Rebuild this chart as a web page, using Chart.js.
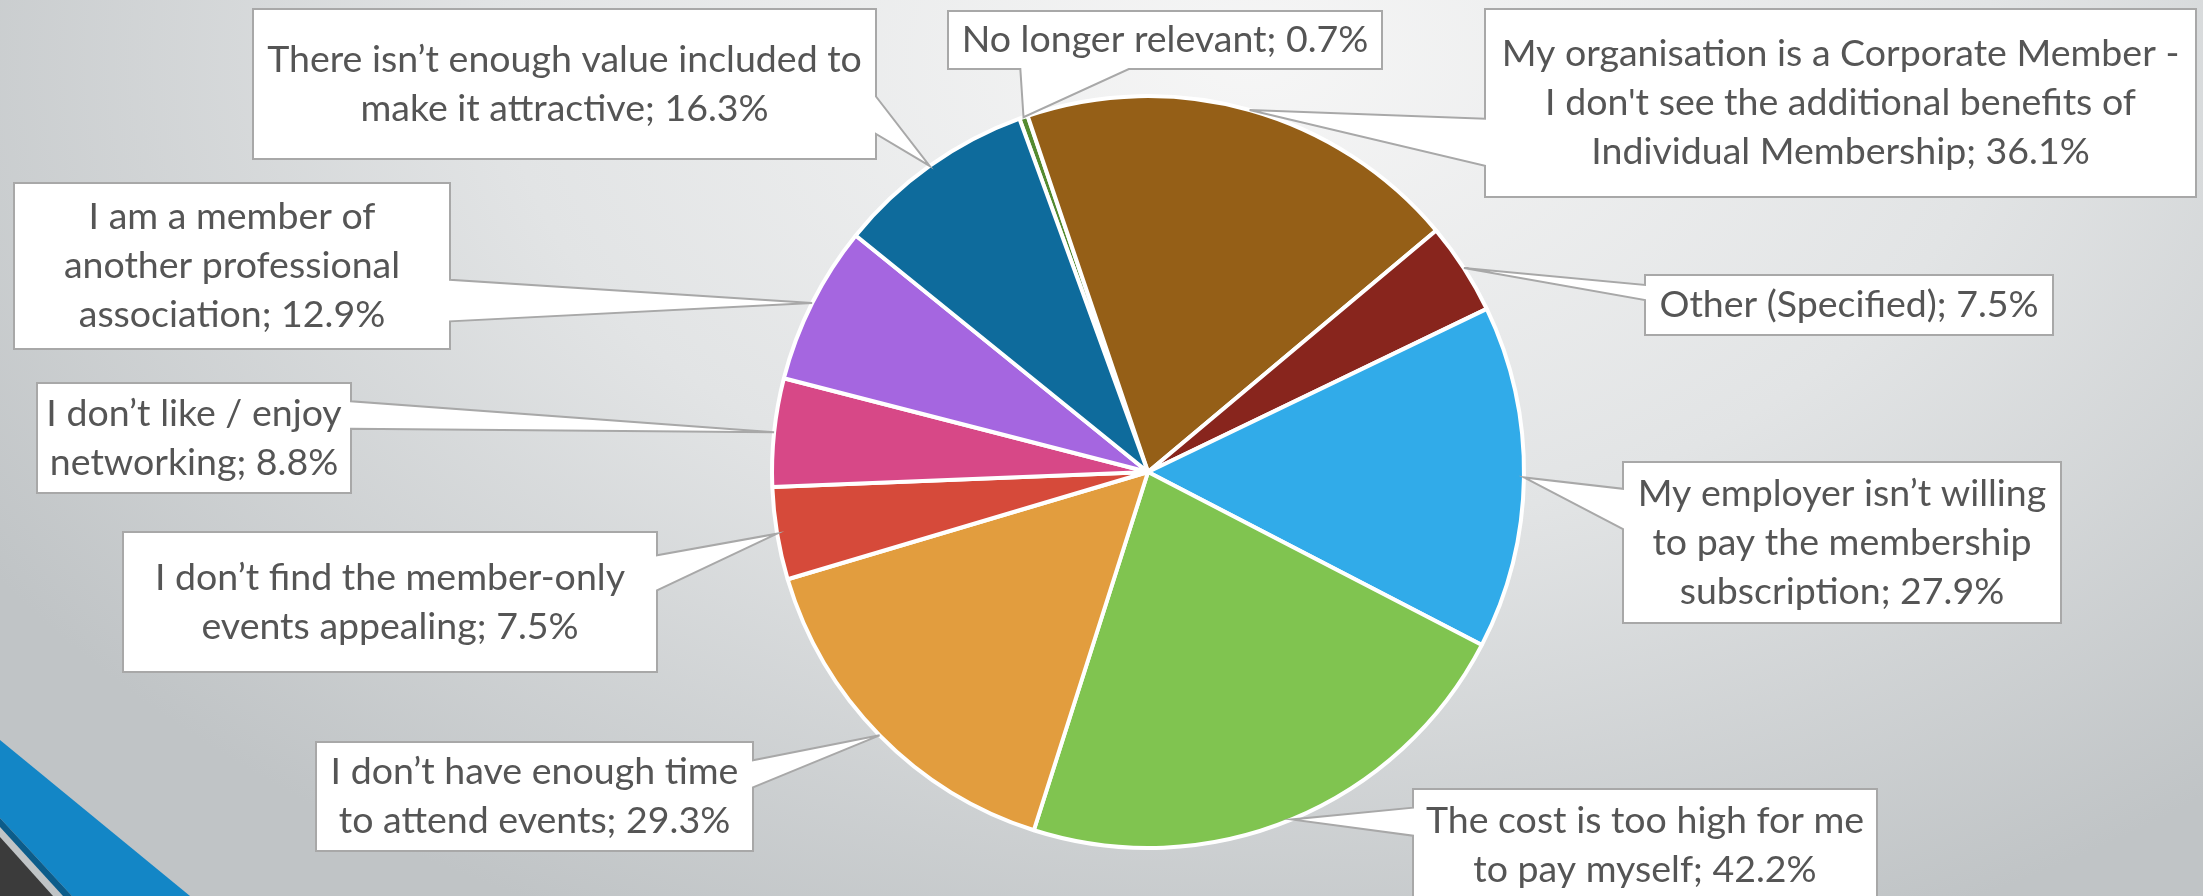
<!DOCTYPE html>
<html>
<head>
<meta charset="utf-8">
<title>Reasons for not taking Individual Membership</title>
<script src="https://cdn.jsdelivr.net/npm/chart.js@4.4.1/dist/chart.umd.min.js"></script>
<style>
  html, body { margin: 0; padding: 0; overflow: hidden; background: #dfe1e2; }
  canvas { display: block; }
</style>
</head>
<body>
<canvas id="reasonsChart" width="2203" height="896"></canvas>
<script>
const categories = [
  "No longer relevant",
  "My organisation is a Corporate Member - I don't see the additional benefits of Individual Membership",
  "Other (Specified)",
  "My employer isn’t willing to pay the membership subscription",
  "The cost is too high for me to pay myself",
  "I don’t have enough time to attend events",
  "I don’t find the member-only events appealing",
  "I don’t like / enjoy networking",
  "I am a member of another professional association",
  "There isn’t enough value included to make it attractive"
];
const values = [0.7, 36.1, 7.5, 27.9, 42.2, 29.3, 7.5, 8.8, 12.9, 16.3];
const sliceColors = [
  "#548a30", "#955f17", "#88251d", "#31abe9", "#80c450",
  "#e29d3e", "#d64a3a", "#d74887", "#a566e0", "#0e6b9c"
];

// word index where each new label line starts
const lineBreaks = [[], [7, 14], [], [4, 8], [7], [5], [5], [5], [5, 7], [6]];

// label boxes as placed on the slide: [x, y, w, h]
const labelBoxes = [
  [948, 11, 434, 58],
  [1485, 9, 711, 188],
  [1645, 275, 408, 60],
  [1623, 462, 438, 161],
  [1413, 789, 464, 112],
  [316, 742, 437, 109],
  [123, 532, 534, 140],
  [37, 383, 314, 110],
  [14, 183, 436, 166],
  [253, 9, 623, 150]
];

function labelLines(i) {
  const words = (categories[i] + "; " + values[i] + "%").split(" ");
  const cuts = [0, ...lineBreaks[i], words.length];
  const lines = [];
  for (let k = 0; k < cuts.length - 1; k++) {
    lines.push(words.slice(cuts[k], cuts[k + 1]).join(" "));
  }
  return lines;
}

// rectangle with a wedge pointing at the slice (PowerPoint wedgeRectCallout)
function calloutPath(ctx, box, tip) {
  const [l, t, w, h] = box;
  const r = l + w, b = t + h;
  const dxPos = tip.x - (l + w / 2);
  const dyPos = tip.y - (t + h / 2);
  const dz = Math.abs(dyPos) - Math.abs(dxPos * h / w);
  const x1 = l + w * (dxPos > 0 ? 7 : 2) / 12;
  const x2 = l + w * (dxPos > 0 ? 10 : 5) / 12;
  const y1 = t + h * (dyPos > 0 ? 7 : 2) / 12;
  const y2 = t + h * (dyPos > 0 ? 10 : 5) / 12;
  ctx.beginPath();
  ctx.moveTo(l, t);
  if (dz > 0 && dyPos < 0) { ctx.lineTo(x1, t); ctx.lineTo(tip.x, tip.y); ctx.lineTo(x2, t); }
  ctx.lineTo(r, t);
  if (dz <= 0 && dxPos > 0) { ctx.lineTo(r, y1); ctx.lineTo(tip.x, tip.y); ctx.lineTo(r, y2); }
  ctx.lineTo(r, b);
  if (dz > 0 && dyPos > 0) { ctx.lineTo(x2, b); ctx.lineTo(tip.x, tip.y); ctx.lineTo(x1, b); }
  ctx.lineTo(l, b);
  if (dz <= 0 && dxPos < 0) { ctx.lineTo(l, y2); ctx.lineTo(tip.x, tip.y); ctx.lineTo(l, y1); }
  ctx.closePath();
}

const slideBackground = {
  id: "slideBackground",
  beforeDraw(chart) {
    const ctx = chart.ctx;
    const W = chart.width, H = chart.height;
    ctx.save();
    // soft radial light, brighter near the top
    ctx.translate(1250, 60);
    ctx.scale(1.55, 1);
    const g = ctx.createRadialGradient(0, 0, 0, 0, 0, 960);
    g.addColorStop(0, "#f6f6f6");
    g.addColorStop(0.5, "#e2e4e5");
    g.addColorStop(1, "#c0c4c6");
    ctx.fillStyle = g;
    ctx.fillRect(-1250 / 1.55, -60, W / 1.55 + 10, H + 10);
    ctx.restore();

    // theme corner shapes
    ctx.save();
    ctx.fillStyle = "#1386c6";
    ctx.beginPath();
    ctx.moveTo(0, 740); ctx.lineTo(190, 896); ctx.lineTo(72, 896); ctx.lineTo(0, 818);
    ctx.closePath(); ctx.fill();
    ctx.fillStyle = "#0c5c8a";
    ctx.beginPath();
    ctx.moveTo(0, 818); ctx.lineTo(72, 896); ctx.lineTo(63, 896); ctx.lineTo(0, 827);
    ctx.closePath(); ctx.fill();
    ctx.fillStyle = "#3b3b3b";
    ctx.beginPath();
    ctx.moveTo(0, 837); ctx.lineTo(53, 896); ctx.lineTo(0, 896);
    ctx.closePath(); ctx.fill();
    ctx.restore();
  }
};

const calloutLabels = {
  id: "calloutLabels",
  afterDatasetsDraw(chart) {
    const ctx = chart.ctx;
    const arcs = chart.getDatasetMeta(0).data;
    ctx.save();
    arcs.forEach((arc, i) => {
      const { x, y, startAngle, endAngle, outerRadius } =
        arc.getProps(["x", "y", "startAngle", "endAngle", "outerRadius"], true);
      const mid = (startAngle + endAngle) / 2;
      const tip = { x: x + Math.cos(mid) * outerRadius, y: y + Math.sin(mid) * outerRadius };
      const box = labelBoxes[i];

      calloutPath(ctx, box, tip);
      ctx.fillStyle = "#ffffff";
      ctx.fill();
      ctx.lineWidth = 2;
      ctx.strokeStyle = "#a8a8a8";
      ctx.lineJoin = "miter";
      ctx.stroke();

      const lines = labelLines(i);
      const lh = 49;
      ctx.font = "37.5px Lato";
      ctx.fillStyle = "#555555";
      ctx.textAlign = "center";
      ctx.textBaseline = "middle";
      const cx = box[0] + box[2] / 2;
      const y0 = box[1] + box[3] / 2 - (lines.length - 1) * lh / 2;
      lines.forEach((ln, k) => ctx.fillText(ln, cx, y0 + k * lh, box[2] - 12));
    });
    ctx.restore();
  }
};

new Chart(document.getElementById("reasonsChart"), {
  type: "pie",
  data: {
    labels: categories,
    datasets: [{
      data: values,
      backgroundColor: sliceColors,
      borderColor: "#ffffff",
      borderWidth: 4
    }]
  },
  options: {
    responsive: false,
    animation: false,
    rotation: -20,
    radius: 376,
    layout: { padding: { left: 772, right: 679, top: 96, bottom: 48 } },
    plugins: {
      legend: { display: false },
      tooltip: { enabled: false }
    }
  },
  plugins: [slideBackground, calloutLabels]
});
</script>
</body>
</html>
